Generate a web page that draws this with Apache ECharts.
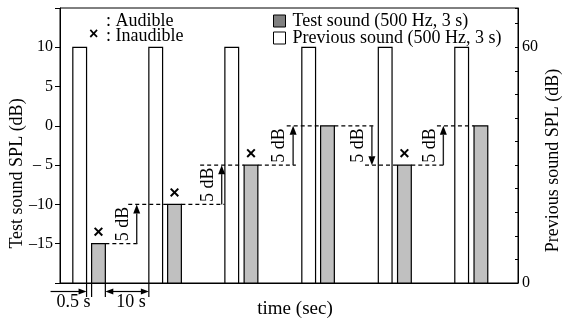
<!DOCTYPE html>
<html>
<head>
<meta charset="utf-8">
<script src="https://cdn.jsdelivr.net/npm/echarts@6/dist/echarts.min.js"></script>
<style>
  html, body { margin: 0; padding: 0; background: #fff; }
  #chart { width: 564px; height: 320px; }
</style>
</head>
<body>
<div id="chart"></div>
<script>
// schematic time axis (arbitrary units), every sound lasts barLen units
var barLen = 3;
var prevStart = [2.8, 19.4, 36.0, 52.8, 69.5, 86.2];
var prevLevel = [60, 60, 60, 60, 60, 60];
var testStart = [6.9, 23.5, 40.2, 56.9, 73.7, 90.4];
var testLevel = [-15, -10, -5, 0, -5, 0];
var audible = [false, false, false, true, false, true];
// level changes between trials (arrow position + where the new level's dashes start)
var stepX = [16.75, 35.3, 50.9, 68.1, 83.7];
var stepDashFrom = [14.9, 30.6, 49.5, 66.6, 82.3];
var stepLabel = ["5 dB", "5 dB", "5 dB", "5 dB", "5 dB"];
// tick labels
var leftTicks = [-15, -10, -5, 0, 5, 10];
var rightTicks = [0, 60];

var leftMin = -20, leftMax = 15;
var rightMin = 0, rightMax = 70;
var serif = '"Liberation Serif", "Times New Roman", serif';

var myChart = echarts.init(document.getElementById("chart"));

function barItem(fill, yBase) {
  return function (params, api) {
    var x0 = api.value(0);
    var p0 = api.coord([x0, api.value(1)]);
    var p1 = api.coord([x0 + barLen, yBase]);
    return {
      type: "rect",
      shape: { x: p0[0], y: p0[1], width: p1[0] - p0[0], height: p1[1] - p0[1] },
      style: { fill: fill, stroke: "#000", lineWidth: 1.2 }
    };
  };
}

function dash(p, q) {
  return {
    type: "line",
    shape: { x1: p[0], y1: p[1], x2: q[0], y2: q[1] },
    style: { stroke: "#000", lineWidth: 1.3, lineDash: [4, 3] }
  };
}

function stepItem(params, api) {
  var ax = api.value(0), a = api.value(1), b = api.value(2);
  var pa = api.coord([ax, a]);
  var pb = api.coord([ax, b]);
  var dir = pb[1] < pa[1] ? 1 : -1;
  var tip = pb[1], base = pb[1] + dir * 9;
  return {
    type: "group",
    children: [
      dash(api.coord([api.value(4), a]), api.coord([ax + 0.6, a])),
      dash(api.coord([api.value(3), b]), api.coord([api.value(5), b])),
      {
        type: "line",
        shape: { x1: pa[0], y1: pa[1], x2: pa[0], y2: base },
        style: { stroke: "#222", lineWidth: 1.4 }
      },
      {
        type: "polygon",
        shape: { points: [[pa[0], tip], [pa[0] - 3.5, base], [pa[0] + 3.5, base]] },
        style: { fill: "#000" }
      },
      {
        type: "text",
        x: pa[0] - 13.5,
        y: (pa[1] + pb[1]) / 2,
        rotation: Math.PI / 2,
        style: {
          text: stepLabel[params.dataIndex], x: 0, y: 0,
          align: "center", verticalAlign: "middle",
          font: "18px " + serif, fill: "#000"
        }
      }
    ]
  };
}

function crossItem(params, api) {
  var p = api.coord([api.value(0), api.value(1)]);
  var cx = p[0], cy = p[1] - 12, r = 3.8;
  var st = { stroke: "#000", lineWidth: 2 };
  return {
    type: "group",
    children: [
      { type: "line", shape: { x1: cx - r, y1: cy - r, x2: cx + r, y2: cy + r }, style: st },
      { type: "line", shape: { x1: cx - r, y1: cy + r, x2: cx + r, y2: cy - r }, style: st }
    ]
  };
}

// "0.5 s" and "10 s" dimension marks under the first trial
function timingItem(params, api) {
  var bottom = api.coord([0, leftMin])[1];
  var e1 = api.coord([prevStart[0] + barLen, leftMin])[0];
  var e2 = api.coord([testStart[0], leftMin])[0];
  var e3 = api.coord([testStart[0] + barLen, leftMin])[0];
  var e4 = api.coord([prevStart[1], leftMin])[0];
  var y = bottom + 8.5, yEnd = bottom + 14;
  var st = { stroke: "#000", lineWidth: 1.2 };
  var kids = [];
  [e1, e2, e3, e4].forEach(function (x) {
    kids.push({ type: "line", shape: { x1: x, y1: bottom, x2: x, y2: yEnd }, style: st });
  });
  function head(x, d) {
    return { type: "polygon", shape: { points: [[x, y], [x - d * 8, y - 3], [x - d * 8, y + 3]] }, style: { fill: "#000" } };
  }
  kids.push({ type: "line", shape: { x1: e1 - 36, y1: y, x2: e1 - 6, y2: y }, style: st });
  kids.push(head(e1, 1));
  kids.push({ type: "line", shape: { x1: e3 + 6, y1: y, x2: e4 - 6, y2: y }, style: st });
  kids.push(head(e3, -1));
  kids.push(head(e4, 1));
  kids.push({ type: "text", style: { text: "0.5 s", x: e1 - 13, y: bottom + 19, align: "center", verticalAlign: "middle", font: "18px " + serif, fill: "#000" } });
  kids.push({ type: "text", style: { text: "10 s", x: (e3 + e4) / 2 + 4, y: bottom + 19, align: "center", verticalAlign: "middle", font: "18px " + serif, fill: "#000" } });
  return { type: "group", children: kids };
}

var prevData = prevStart.map(function (x, i) { return [x, prevLevel[i]]; });
var testData = testStart.map(function (x, i) { return [x, testLevel[i]]; });
var crossData = [];
testStart.forEach(function (x, i) {
  if (!audible[i]) crossData.push([x + barLen / 2, testLevel[i]]);
});
var stepData = stepX.map(function (x, i) {
  return [x, testLevel[i], testLevel[i + 1], stepDashFrom[i], testStart[i] + barLen, testStart[i + 1]];
});

var option = {
  animation: false,
  grid: {
    left: 60, right: 46, top: 8, bottom: 37, outerBoundsMode: "none",
    show: true, borderColor: "#000", borderWidth: 1
  },
  legend: {
    left: 273, top: 12, padding: 0, orient: "vertical", itemGap: -1,
    itemWidth: 12, itemHeight: 12, icon: "rect", selectedMode: false,
    textStyle: { fontFamily: serif, fontSize: 18, color: "#000", padding: [0, 0, 0, 2] },
    data: [
      { name: "Test sound (500 Hz, 3 s)", itemStyle: { color: "#808080", borderColor: "#000", borderWidth: 1 } },
      { name: "Previous sound (500 Hz, 3 s)", itemStyle: { color: "#fff", borderColor: "#000", borderWidth: 1 } }
    ]
  },
  graphic: [
    { type: "text", left: 106, top: 12, style: { text: ": Audible", font: "18px " + serif, fill: "#000" } },
    { type: "text", left: 89, top: 27, style: { text: "\u00d7", font: "bold 16px sans-serif", fill: "#000" } },
    { type: "text", left: 106, top: 27, style: { text: ": Inaudible", font: "18px " + serif, fill: "#000" } }
  ],
  xAxis: {
    type: "value", min: 0, max: 100,
    name: "time (sec)", nameLocation: "middle", nameGap: 17, nameMoveOverlap: false,
    nameTextStyle: { fontFamily: serif, fontSize: 19, color: "#000", padding: [0, 0, 0, 12] },
    axisLine: { onZero: false, lineStyle: { color: "#000" } },
    axisTick: { show: false }, axisLabel: { show: false }, splitLine: { show: false }
  },
  yAxis: [
    {
      type: "value", min: leftMin, max: leftMax, interval: 5,
      name: "Test sound SPL (dB)", nameLocation: "middle", nameGap: 34, nameRotate: 90,
      nameMoveOverlap: false,
      nameTextStyle: { fontFamily: serif, fontSize: 18, color: "#000", padding: [0, 56, 0, 0] },
      axisLine: { show: true, lineStyle: { color: "#000" } },
      axisTick: { show: true, length: 5, lineStyle: { color: "#000" } },
      axisLabel: {
        margin: 7, fontFamily: serif, fontSize: 16, color: "#000",
        formatter: function (v) {
          if (leftTicks.indexOf(v) < 0) return "";
          if (v < 0) return "\u2013" + (v > -10 ? " " : "") + (-v);
          return String(v);
        }
      },
      splitLine: { show: false }
    },
    {
      type: "value", position: "right", min: rightMin, max: rightMax, interval: 6,
      name: "Previous sound SPL (dB)", nameLocation: "middle", nameGap: 26, nameRotate: 90,
      nameMoveOverlap: false,
      nameTextStyle: { fontFamily: serif, fontSize: 18, color: "#000", padding: [0, 30, 0, 0] },
      axisLine: { show: true, lineStyle: { color: "#000" } },
      axisTick: { show: true, inside: true, length: 3, lineStyle: { color: "#000" } },
      axisLabel: {
        margin: 4, fontFamily: serif, fontSize: 16, color: "#000",
        formatter: function (v) { return rightTicks.indexOf(v) < 0 ? "" : String(v); }
      },
      splitLine: { show: false }
    }
  ],
  series: [
    {
      name: "Previous sound (500 Hz, 3 s)", type: "custom", yAxisIndex: 1,
      itemStyle: { color: "#fff", borderColor: "#000" },
      renderItem: barItem("#fff", rightMin), data: prevData
    },
    {
      name: "Test sound (500 Hz, 3 s)", type: "custom", yAxisIndex: 0,
      itemStyle: { color: "#808080", borderColor: "#000" },
      renderItem: barItem("#c0c0c0", leftMin), data: testData
    },
    { name: "steps", type: "custom", renderItem: stepItem, data: stepData, z: 3 },
    { name: "inaudible", type: "custom", renderItem: crossItem, data: crossData, z: 3 },
    { name: "timing", type: "custom", renderItem: timingItem, data: [[0]], z: 3 }
  ]
};

myChart.setOption(option);
window.addEventListener("resize", function () {
  myChart.resize();
});
</script>
</body>
</html>
